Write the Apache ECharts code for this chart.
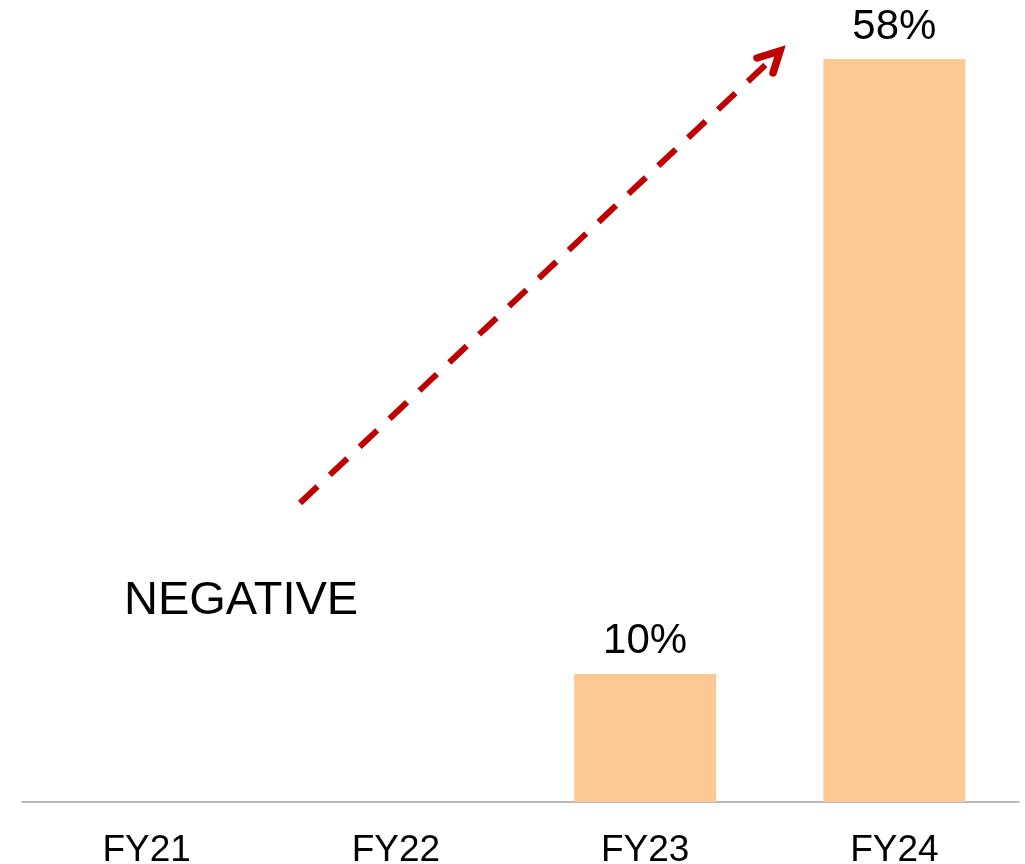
<!DOCTYPE html>
<html>
<head>
<meta charset="utf-8">
<script src="https://cdn.jsdelivr.net/npm/echarts@6/dist/echarts.min.js"></script>
<style>
  html, body { margin: 0; padding: 0; background: #ffffff; }
  #chart { width: 1025px; height: 864px; }
</style>
</head>
<body>
<div id="chart"></div>
<script>
// Fiscal years shown on the category axis
const categories = ['FY21', 'FY22', 'FY23', 'FY24'];
// Margin in percent; FY21 and FY22 were negative and have no bar
const values = [null, null, 10, 58];
// Text for the negative years
const negativeNote = 'NEGATIVE';

const FONT = '"Liberation Sans", Arial, sans-serif';
const BAR_COLOR = '#FDC893';
const ARROW_COLOR = '#C00000';

const chart = echarts.init(document.getElementById('chart'), null, { renderer: 'canvas' });

chart.setOption({
  animation: false,
  backgroundColor: '#ffffff',
  grid: {
    left: 22, right: 6, top: 59, bottom: 62,
    containLabel: false,
    outerBoundsMode: 'none'
  },
  xAxis: {
    type: 'category',
    data: categories,
    axisLine: { show: true, lineStyle: { color: '#A3A3A3', width: 1.5 } },
    axisTick: { show: false },
    axisLabel: { color: '#000000', fontFamily: FONT, fontSize: 37, margin: 30 }
  },
  yAxis: {
    type: 'value',
    min: 0,
    max: 58,
    show: false,
    splitLine: { show: false }
  },
  series: [{
    type: 'bar',
    data: values.map(v => (v === null ? '-' : v)),
    barWidth: 142,
    itemStyle: { color: BAR_COLOR },
    label: {
      show: true,
      position: 'top',
      distance: 11,
      color: '#000000',
      fontFamily: FONT,
      fontSize: 42,
      formatter: p => p.value + '%'
    }
  }],
  graphic: [
    {
      type: 'text',
      left: 124,
      top: 578,
      style: { text: negativeNote, fill: '#000000', font: '47px ' + FONT }
    },
    {
      // dashed trend line
      type: 'line',
      shape: { x1: 300, y1: 503, x2: 776, y2: 55 },
      style: { stroke: ARROW_COLOR, lineWidth: 6, lineDash: [24, 17] }
    },
    {
      // arrow head
      type: 'polyline',
      shape: { points: [[757, 58], [780, 51], [773, 73]] },
      style: { stroke: ARROW_COLOR, lineWidth: 7.5, fill: null, lineCap: 'round', lineJoin: 'miter' }
    }
  ]
});
</script>
</body>
</html>
